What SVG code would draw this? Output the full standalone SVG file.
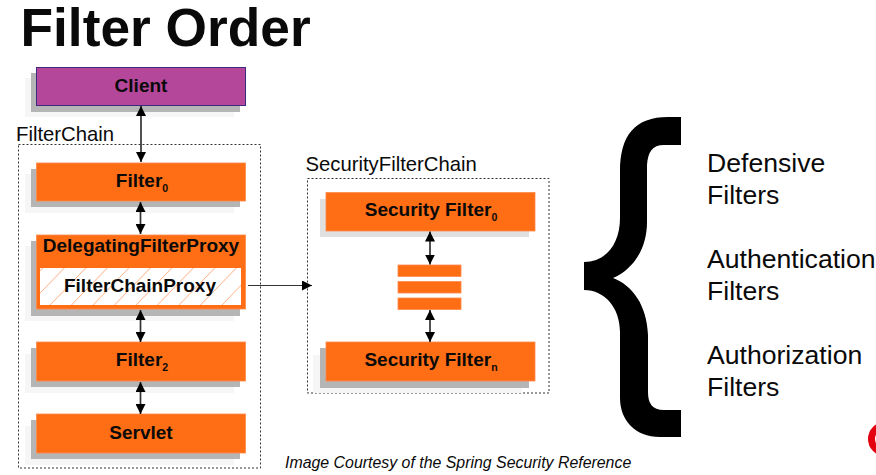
<svg xmlns="http://www.w3.org/2000/svg" width="876" height="475" viewBox="0 0 876 475">
<style>
text{font-family:"Liberation Sans",Arial,sans-serif;fill:#0a0a0a}
.b{font-weight:bold;font-size:19px;text-anchor:middle}
.s{font-size:10.500px;font-weight:bold}
.l{font-size:20.300px}
.r{font-size:26.600px}
.o{fill:#ff6d14;stroke:#ff8a4a;stroke-width:.8}
.sd{fill:#b5b5b5}
.f{fill:#f6f6f6}
.d{fill:none;stroke:#333;stroke-width:1;stroke-dasharray:2 2}
.c{fill:none;stroke:#333;stroke-width:1.700;marker-start:url(#a);marker-end:url(#a)}
</style>
<defs>
<marker id="a" viewBox="0 0 10 10" refX="10" refY="5" markerWidth="10" markerHeight="10" markerUnits="userSpaceOnUse" orient="auto-start-reverse"><path d="M0 0L10 5L0 10Z" fill="#000"/></marker>
<pattern id="h" width="21.500" height="21.500" patternUnits="userSpaceOnUse" patternTransform="skewX(-44)"><rect width="21.500" height="21.500" fill="#fff"/><path d="M.5 0V21.500" stroke="#ffb48a" stroke-width="1.200"/></pattern>
</defs>
<text id="title" x="20.500" y="45.500" font-size="53.300" font-weight="bold">Filter Order</text>
<g id="filterchain"><rect class="d" x="18.500" y="144.500" width="242" height="323.500"/><text class="l" x="16" y="141">FilterChain</text></g>
<g id="securityfilterchain"><rect class="d" x="307.500" y="178.500" width="241.500" height="214.500"/><text class="l" x="305.500" y="171">SecurityFilterChain</text></g>
<g id="client"><rect class="f" x="25" y="78" width="209" height="39"/><rect class="sd" x="31" y="73" width="209" height="39"/><rect x="36.500" y="67.500" width="209" height="38" fill="#b5479b" stroke="#3d2a80"/><text class="b" x="141" y="92">Client</text></g>
<g id="filter0"><rect class="f" x="25" y="174" width="209" height="39"/><rect class="sd" x="31" y="169" width="209" height="38"/><rect class="o" x="36.500" y="163" width="209" height="38"/><text class="b" x="142" y="187">Filter<tspan class="s" dy="5">0</tspan></text></g>
<g id="delegatingfilterproxy"><rect class="f" x="25" y="246" width="209" height="75"/><rect class="sd" x="31" y="241" width="209" height="75"/><rect class="o" x="36.500" y="235" width="209" height="74"/><rect x="40" y="268" width="201" height="37" fill="url(#h)"/><text class="b" x="141" y="252">DelegatingFilterProxy</text><text class="b" x="140" y="292">FilterChainProxy</text></g>
<g id="filter2"><rect class="f" x="25" y="354" width="209" height="39"/><rect class="sd" x="31" y="348" width="209" height="39"/><rect class="o" x="36.500" y="342" width="209" height="39"/><text class="b" x="142" y="366">Filter<tspan class="s" dy="5">2</tspan></text></g>
<g id="servlet"><rect class="f" x="25" y="426" width="209" height="39"/><rect class="sd" x="31" y="420" width="209" height="39"/><rect class="o" x="36.500" y="414" width="209" height="39"/><text class="b" x="141" y="439">Servlet</text></g>
<g id="securityfilter0"><rect x="320" y="199" width="209" height="38" fill="#e0e0e0"/><rect class="o" x="326" y="192.500" width="209" height="38.500"/><text class="b" x="431" y="216">Security Filter<tspan class="s" dy="5">0</tspan></text></g>
<g id="bars"><rect class="o" x="398" y="265" width="63" height="11.500"/><rect class="o" x="398" y="281.500" width="63" height="11.500"/><rect class="o" x="398" y="298" width="63" height="11.500"/></g>
<g id="securityfiltern"><rect class="f" x="313" y="355" width="209" height="38"/><rect class="sd" x="320" y="348" width="209" height="40"/><rect class="o" x="326" y="342" width="209" height="39"/><text class="b" x="431" y="366">Security Filter<tspan class="s" dy="5">n</tspan></text></g>
<g id="connectors">
<path class="c" d="M141 106V162"/>
<path class="c" d="M140.500 202V234"/>
<path class="c" d="M140.500 310V342"/>
<path class="c" d="M140.500 382V414"/>
<path class="c" d="M430 231.500V264.500"/>
<path class="c" d="M430 310V342"/>
<path d="M248 285.500H312" fill="none" stroke="#333" stroke-width="1" marker-end="url(#a)"/>
</g>
<path id="brace" fill="#000" d="M681 117H668C635 117 620 135 620 172V218C620 245 605 262 584 262V290C605 290 620 308 620 332V398C620 420 635 437 660 437H681V410H664C652 410 648 403 648 392V335C647 305 632 285 613 278C632 270 647 250 647 222V165C648 152 652 145 664 145H681Z"/>
<g id="list">
<text class="r" x="707" y="172">Defensive</text><text class="r" x="707" y="204">Filters</text>
<text class="r" x="707" y="268">Authentication</text><text class="r" x="707" y="300">Filters</text>
<text class="r" x="707" y="364">Authorization</text><text class="r" x="707" y="396">Filters</text>
</g>
<text id="caption" x="285" y="468" font-size="15.900" font-style="italic">Image Courtesy of the Spring Security Reference</text>
<circle id="logo" cx="885" cy="439" r="13.500" fill="none" stroke="#e3000f" stroke-width="7"/>
</svg>
